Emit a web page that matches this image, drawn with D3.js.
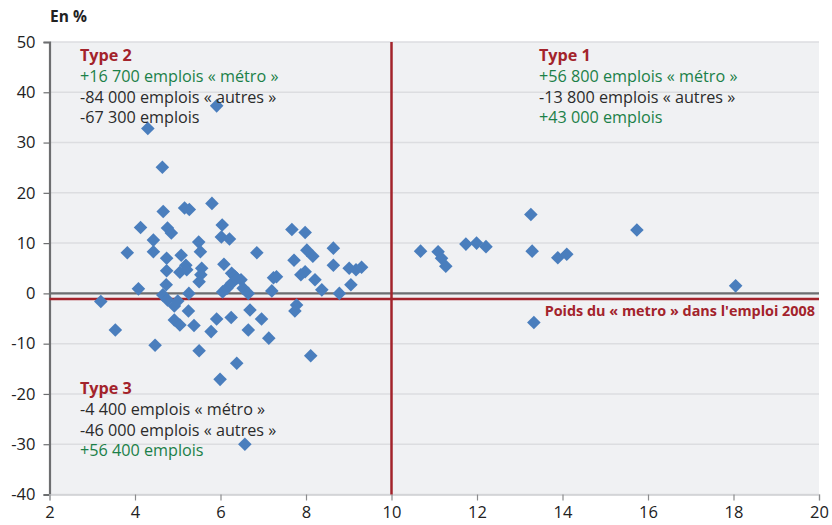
<!DOCTYPE html>
<html><head><meta charset="utf-8">
<script src="https://cdn.jsdelivr.net/npm/d3@7"></script>
<style>body{margin:0;background:#fff}svg{display:block}</style>
</head><body><svg id="c" width="832" height="525"></svg>
<script>
const xTicks=[2,4,6,8,10,12,14,16,18,20];
const yTicks=[50,40,30,20,10,0,-10,-20,-30,-40];
const refX=10, refY=-1.1;
const xs=[4.30,5.91,4.64,4.66,5.16,5.27,5.80,4.13,4.76,4.85,6.04,4.43,5.49,6.02,6.21,3.82,4.43,5.53,6.85,
4.74,4.74,5.08,5.19,5.05,5.21,5.56,5.54,5.50,4.73,4.65,4.76,4.92,5.00,5.26,5.25,4.92,5.05,5.38,4.08,
6.08,6.26,6.33,6.05,6.15,6.26,6.38,6.48,6.53,6.65,6.69,6.65,6.96,7.13,7.24,7.31,7.20,6.25,5.91,5.78,5.50,6.38,5.99,6.57,4.47,3.54,3.20,
7.67,7.98,8.02,8.16,7.72,7.88,7.98,8.21,8.37,8.64,8.64,9.01,9.17,9.30,9.05,8.78,7.78,7.74,8.11,
10.68,11.09,11.17,11.27,11.74,11.99,12.21,13.26,13.29,13.89,14.10,15.74,18.05,13.33];
const ys=[32.8,37.3,25.1,16.3,17.0,16.7,17.9,13.1,13.0,12.0,13.6,10.6,10.2,11.2,10.8,8.1,8.3,8.3,8.1,
7.0,4.5,7.6,5.6,4.2,4.7,5.0,3.7,2.3,1.7,-0.3,-1.3,-2.5,-1.5,0.0,-3.5,-5.3,-6.3,-6.4,0.9,
5.8,4.0,3.4,0.3,1.0,2.0,3.0,2.7,1.0,0.0,-3.3,-7.3,-5.1,-8.9,3.1,3.3,0.5,-4.8,-5.1,-7.6,-11.4,-13.9,-17.1,-30.0,-10.3,-7.3,-1.6,
12.7,12.1,8.6,7.4,6.6,3.7,4.3,2.7,0.7,9.0,5.6,5.0,4.7,5.2,1.7,0.0,-2.3,-3.5,-12.4,
8.4,8.3,7.0,5.4,9.8,10.0,9.3,15.7,8.4,7.1,7.8,12.6,1.5,-5.8];
const t2=[["Type 2","red"],["+16 700 emplois « métro »","green"],["-84 000 emplois « autres »","dark"],["-67 300 emplois","dark"]];
const t1=[["Type 1","red"],["+56 800 emplois « métro »","green"],["-13 800 emplois « autres »","dark"],["+43 000 emplois","green"]];
const t3=[["Type 3","red"],["-4 400 emplois « métro »","dark"],["-46 000 emplois « autres »","dark"],["+56 400 emplois","green"]];
const refLabel="Poids du « metro » dans l'emploi 2008";
const yUnit="En %";

const col={red:"#a3232b",green:"#1b8048",dark:"#2b2b2b"};
const font="'Open Sans', 'Noto Sans', sans-serif";
const L=49.5,R=819,T=42,B=494.5;
const x=d3.scaleLinear().domain([2,20]).range([L,R]);
const y=d3.scaleLinear().domain([-40,50]).range([B,T]);
const svg=d3.select("#c").style("font-family",font);
const fmt=d=>String(d);

svg.append("rect").attr("x",L).attr("y",T).attr("width",R-L).attr("height",B-T).attr("fill","#f0f1f3");
svg.append("g").selectAll("line").data(yTicks).join("line")
 .attr("x1",L).attr("x2",R).attr("y1",d=>y(d)).attr("y2",d=>y(d))
 .attr("stroke","#dcdde0").attr("stroke-width",1.5);
svg.append("line").attr("x1",L).attr("x2",R).attr("y1",y(0)).attr("y2",y(0)).attr("stroke","#6d6e70").attr("stroke-width",2.2);

const ya=svg.append("g").attr("transform",`translate(${L},0)`).call(d3.axisLeft(y).tickValues(yTicks).tickSize(6).tickPadding(8).tickFormat(fmt));
ya.select(".domain").attr("stroke","#6d6e70").attr("stroke-width",2.2);
ya.selectAll(".tick line").attr("stroke","#6d6e70").attr("stroke-width",1.2);
ya.selectAll("text").attr("font-size",16.5).attr("fill","#222").attr("font-family",font);
const xa=svg.append("g").attr("transform",`translate(0,${B})`).call(d3.axisBottom(x).tickValues(xTicks).tickSize(6).tickPadding(6).tickFormat(fmt));
xa.select(".domain").attr("stroke","#d0d1d4").attr("stroke-width",1.5);
xa.selectAll(".tick line").attr("stroke","#8a8b8d").attr("stroke-width",1.2);
xa.selectAll("text").attr("font-size",16.5).attr("fill","#222").attr("font-family",font);

svg.append("line").attr("x1",x(refX)).attr("x2",x(refX)).attr("y1",T).attr("y2",B).attr("stroke","#a3232b").attr("stroke-width",2.5);
svg.append("line").attr("x1",L).attr("x2",R).attr("y1",y(refY)).attr("y2",y(refY)).attr("stroke","#a3232b").attr("stroke-width",2.5);

const pts=xs.map((v,i)=>[v,ys[i]]);
svg.append("g").selectAll("path").data(pts).join("path")
 .attr("d",d3.symbol(d3.symbolSquare,92))
 .attr("transform",d=>`translate(${x(d[0])},${y(d[1])}) rotate(45)`)
 .attr("fill","#4a7ebd");

function block(lines,x0,y0){
 const g=svg.append("g");
 lines.forEach((l,i)=>{
  g.append("text").attr("x",x0).attr("y",y0+i*20.8).text(l[0])
   .attr("font-size",16.2).attr("fill",col[l[1]]).attr("font-weight",l[1]==="red"?"bold":"normal");
 });
}
block(t2,80,61);
block(t1,539,61);
block(t3,80,394);
svg.append("text").attr("x",815).attr("y",316).attr("text-anchor","end").text(refLabel)
 .attr("font-size",14.4).attr("font-weight","bold").attr("fill","#a3232b");
svg.append("text").attr("x",50).attr("y",22).text(yUnit).attr("font-size",15.5).attr("font-weight","bold").attr("fill","#222");
</script></body></html>
